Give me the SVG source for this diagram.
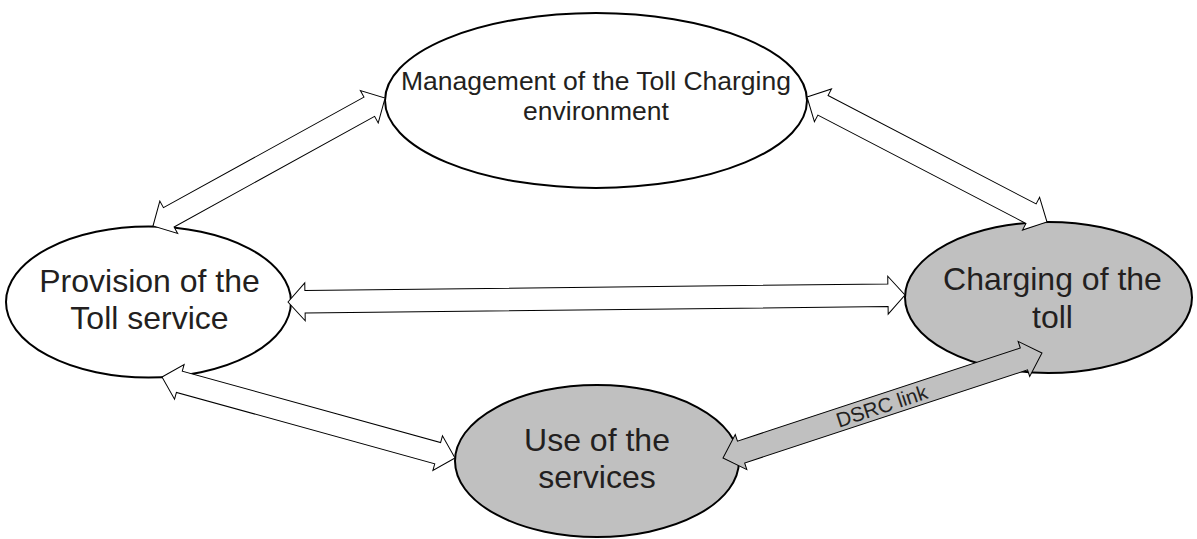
<svg xmlns="http://www.w3.org/2000/svg" width="1197" height="539" viewBox="0 0 1197 539">
<style>
.node{stroke:#000;stroke-width:2}
.white{fill:#fff}
.gray{fill:#c0c0c0}
.lbl{font-family:"Liberation Sans",Arial,sans-serif;fill:#231f20;text-anchor:middle}
.arrow{stroke:#000;stroke-width:1;stroke-linejoin:miter}
.aw{fill:#fff}
.ag{fill:#c0c0c0}
</style>
<rect width="1197" height="539" fill="#fff"/>
<g id="node-management">
<ellipse class="node white" cx="596" cy="100.5" rx="211" ry="87.5"/>
<text class="lbl" font-size="26.5" x="596" y="90">Management of the Toll Charging</text>
<text class="lbl" font-size="26.5" x="596" y="120">environment</text>
</g>
<g id="node-provision">
<ellipse class="node white" cx="148.5" cy="302" rx="142.5" ry="75.5"/>
<text class="lbl" font-size="32" x="149.5" y="292">Provision of the</text>
<text class="lbl" font-size="32" x="149.5" y="329">Toll service</text>
</g>
<g id="node-charging">
<ellipse class="node gray" cx="1048.5" cy="297.5" rx="143.5" ry="75.5"/>
<text class="lbl" font-size="32" x="1052.5" y="290">Charging of the</text>
<text class="lbl" font-size="32" x="1052.5" y="328">toll</text>
</g>
<g id="node-use">
<ellipse class="node gray" cx="597" cy="461" rx="142" ry="76"/>
<text class="lbl" font-size="32" x="597" y="451">Use of the</text>
<text class="lbl" font-size="32" x="597" y="488">services</text>
</g>
<g id="connectors">
<path class="arrow aw" transform="translate(153,226) rotate(-28.88)" d="M0,0 L18,-18.5 L18,-11 L247,-11 L247,-18.5 L265,0 L247,18.5 L247,11 L18,11 L18,18.5 Z"/>
<path class="arrow aw" transform="translate(807,97) rotate(27.51)" d="M0,0 L18,-18.5 L18,-11 L252.6,-11 L252.6,-18.5 L270.6,0 L252.6,18.5 L252.6,11 L18,11 L18,18.5 Z"/>
<path class="arrow aw" transform="translate(288,302) rotate(-0.65)" d="M0,0 L17,-19 L17,-11.3 L600,-11.3 L600,-19 L617,0 L600,19 L600,11.3 L17,11.3 L17,19 Z"/>
<path class="arrow aw" transform="translate(162,377) rotate(15.45)" d="M0,0 L18,-18 L18,-11 L286,-11 L286,-18 L304,0 L286,18 L286,11 L18,11 L18,18 Z"/>
<g id="dsrc-link" transform="translate(723,458) rotate(-18.22)">
<path class="arrow ag" d="M0,0 L19,-18.5 L19,-11.5 L316.8,-11.5 L316.8,-18.5 L335.8,0 L316.8,18.5 L316.8,11.5 L19,11.5 L19,18.5 Z"/>
<text class="lbl" font-size="20.5" x="167" y="7.5">DSRC link</text>
</g>
</g>
</svg>
